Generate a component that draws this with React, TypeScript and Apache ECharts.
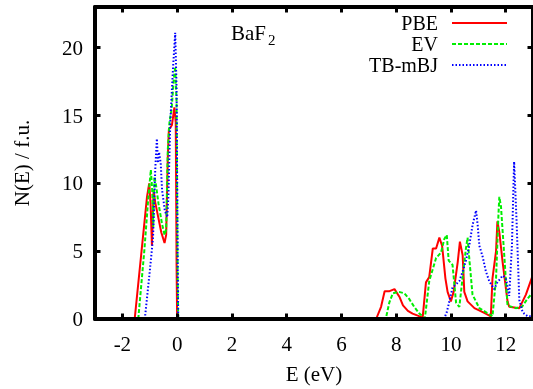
import React, { useEffect, useRef } from "react";
import * as echarts from "echarts";

const xTicks = [-2, 0, 2, 4, 6, 8, 10, 12];
const yTicks = [0, 5, 10, 15, 20];
const seriesNames = ["PBE", "EV", "TB-mBJ"];

// PBE
const pbeVbE = [-1.55, -1.3, -1.1, -1.02, -0.97, -0.92, -0.86, -0.8, -0.7, -0.58, -0.46, -0.4, -0.34, -0.3, -0.25, -0.19, -0.1, -0.05, -0.02, 0.0];
const pbeVbN = [0, 5.0, 9.0, 10.0, 8.5, 5.4, 9.5, 8.6, 7.6, 6.4, 5.6, 6.2, 12.0, 14.0, 14.1, 14.3, 15.6, 14.5, 4.0, 0];
const pbeCbE = [7.27, 7.45, 7.58, 7.76, 7.94, 8.13, 8.25, 8.43, 8.6, 8.79, 8.97, 9.09, 9.21, 9.34, 9.46, 9.58, 9.68, 9.8, 9.88, 10.0, 10.1, 10.25, 10.33, 10.43, 10.49, 10.61, 10.86, 11.22, 11.46, 11.52, 11.65, 11.7, 11.77, 11.89, 12.07, 12.13, 12.5, 12.74, 12.95, 13.1];
const pbeCbN = [0, 0.9, 2.05, 2.05, 2.2, 1.6, 1.0, 0.6, 0.4, 0.25, 0.1, 2.7, 3.1, 5.2, 5.2, 6.0, 5.4, 3.0, 2.0, 1.3, 2.0, 4.2, 5.7, 4.7, 2.0, 1.3, 0.8, 0.45, 0.2, 3.0, 5.0, 7.2, 6.4, 4.2, 1.3, 0.9, 0.8, 1.8, 3.0, 3.6];

// EV
const evVbE = [-1.42, -1.2, -1.05, -0.96, -0.91, -0.87, -0.83, -0.78, -0.68, -0.55, -0.46, -0.4, -0.34, -0.28, -0.2, -0.13, -0.07, -0.02, 0.02, 0.04];
const evVbN = [0, 5.0, 9.0, 11.0, 9.5, 6.8, 10.5, 10.0, 8.5, 7.0, 6.2, 6.6, 12.5, 14.5, 15.5, 17.5, 18.6, 16.0, 3.0, 0];
const evCbE = [7.62, 7.75, 7.88, 8.1, 8.3, 8.47, 8.66, 8.85, 9.05, 9.21, 9.46, 9.64, 9.76, 9.85, 9.92, 10.06, 10.19, 10.31, 10.43, 10.55, 10.61, 10.67, 10.79, 11.04, 11.4, 11.52, 11.65, 11.74, 11.77, 11.83, 11.95, 12.07, 12.37, 12.6, 12.8, 13.1];
const evCbN = [0, 1.2, 1.9, 2.0, 1.9, 1.5, 0.9, 0.4, 0.05, 2.8, 4.5, 4.9, 5.9, 6.2, 4.3, 4.0, 1.2, 0.9, 3.1, 5.2, 6.0, 4.5, 1.8, 0.8, 0.35, 0.2, 3.0, 7.8, 9.0, 8.3, 4.7, 1.0, 0.8, 0.9, 1.5, 2.2];

// TB-mBJ
const mbjVbE = [-1.18, -1.0, -0.88, -0.8, -0.74, -0.7, -0.66, -0.6, -0.55, -0.45, -0.36, -0.32, -0.25, -0.15, -0.07, -0.02, 0.02, 0.04];
const mbjVbN = [0, 3.5, 6.0, 11.0, 13.3, 11.5, 12.3, 11.5, 9.5, 8.0, 7.5, 9.0, 14.5, 18.5, 21.1, 17.0, 4.0, 0];
const mbjCbE = [9.75, 9.85, 10.06, 10.31, 10.43, 10.55, 10.67, 10.79, 10.92, 10.98, 11.04, 11.1, 11.16, 11.28, 11.4, 11.58, 11.7, 11.89, 12.01, 12.13, 12.23, 12.31, 12.4, 12.5, 12.62, 12.8, 13.1];
const mbjCbN = [0, 0.5, 2.3, 2.8, 3.5, 4.3, 5.4, 6.9, 8.0, 6.9, 5.4, 5.0, 4.6, 3.5, 2.8, 2.2, 2.7, 3.2, 3.0, 1.7, 5.4, 11.6, 7.2, 1.4, 0.5, 0.2, 0.2];

const FONT = "Liberation Serif";

function zip(xs: number[], ys: number[]) {
  return xs.map((x, i) => [x, ys[i]]);
}

export default function App() {
  const ref = useRef<HTMLDivElement>(null);
  useEffect(() => {
    const chart = echarts.init(ref.current!, null, { renderer: "svg" });
    const axisLine = { show: true, onZero: false, lineStyle: { color: "#000", width: 4 } };
    const tickStyle = { color: "#000", width: 3 };
    const labelStyle = { fontFamily: FONT, fontSize: 21, color: "#000" };
    const colors = ["#ff0000", "#00ee00", "#0000ff"];
    const dashes: any[] = ["solid", [4, 2], [1.5, 2]];
    const datas = [
      zip(pbeVbE.concat(pbeCbE), pbeVbN.concat(pbeCbN)),
      zip(evVbE.concat(evCbE), evVbN.concat(evCbN)),
      zip(mbjVbE.concat(mbjCbE), mbjVbN.concat(mbjCbN)),
    ];
    const legendTops = [13, 34, 55];
    chart.setOption({
      animation: false,
      grid: { left: 95, top: 7, width: 440, height: 318.5, containLabel: false },
      xAxis: [
        {
          type: "value", min: -3, max: 13, position: "bottom", z: 5,
          axisLine, splitLine: { show: false },
          axisTick: { inside: true, length: 5.5, customValues: xTicks, lineStyle: tickStyle },
          axisLabel: { ...labelStyle, margin: 14, customValues: xTicks },
          name: "E (eV)", nameLocation: "middle", nameGap: 44,
          nameTextStyle: { ...labelStyle },
        },
        {
          type: "value", min: -3, max: 13, position: "top", z: 5,
          axisLine, splitLine: { show: false },
          axisTick: { inside: true, length: 5.5, customValues: xTicks, lineStyle: tickStyle },
          axisLabel: { show: false },
        },
      ],
      yAxis: [
        {
          type: "value", min: 0, max: 23, position: "left", z: 5,
          axisLine, splitLine: { show: false },
          axisTick: { inside: true, length: 5.5, customValues: yTicks, lineStyle: tickStyle },
          axisLabel: { ...labelStyle, margin: 12, customValues: yTicks },
          name: "N(E) / f.u.", nameLocation: "middle", nameGap: 63,
          nameTextStyle: { ...labelStyle },
        },
        {
          type: "value", min: 0, max: 23, position: "right", z: 5,
          axisLine, splitLine: { show: false },
          axisTick: { inside: true, length: 5.5, customValues: yTicks, lineStyle: tickStyle },
          axisLabel: { show: false },
        },
      ],
      legend: seriesNames.map((n, i) => ({
        data: [n], orient: "vertical", align: "right", right: 25, top: legendTops[i],
        itemWidth: 55, itemHeight: 14, padding: 0, selectedMode: false,
        itemStyle: { opacity: 0 },
        textStyle: { ...labelStyle, fontSize: 20, lineHeight: 18, padding: [0, 9, 0, 0] },
      })),
      series: seriesNames.map((n, i) => ({
        name: n, type: "line", data: datas[i], symbol: "none", z: 2,
        xAxisIndex: 0, yAxisIndex: 0,
        lineStyle: { color: colors[i], width: 2, type: dashes[i] },
        itemStyle: { color: colors[i] },
      })),
      graphic: [
        { type: "text", left: 231, top: 22, style: { text: "BaF", font: `21px '${FONT}'`, fill: "#000" } },
        { type: "text", left: 268, top: 32, style: { text: "2", font: `15px '${FONT}'`, fill: "#000" } },
      ],
    });
    return () => chart.dispose();
  }, []);
  return <div ref={ref} style={{ position: "fixed", left: 0, top: 0, width: 533, height: 389 }} />;
}
